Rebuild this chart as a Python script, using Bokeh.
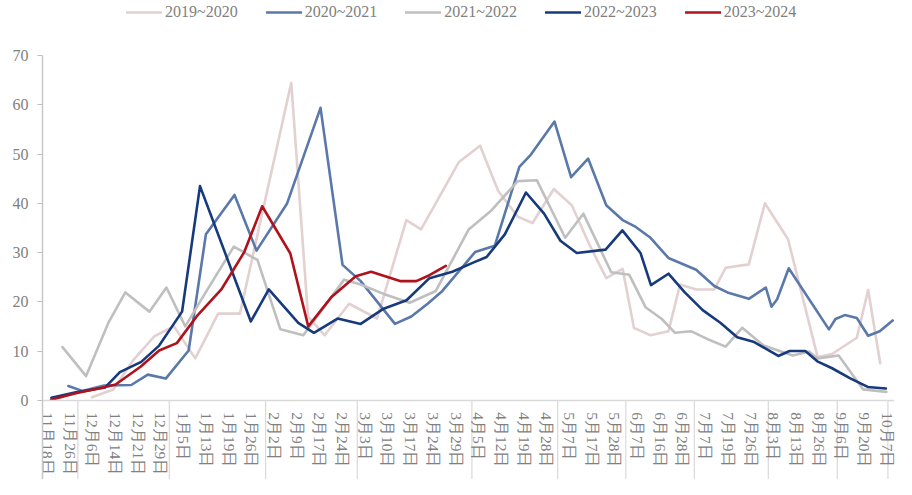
from bokeh.plotting import figure
from bokeh.models import Legend, LegendItem, FixedTicker, Range1d
from bokeh.embed import file_html
from bokeh.resources import INLINE

# ---------------- data ----------------
date_labels = ["11月18日", "11月26日", "12月6日", "12月14日", "12月21日", "12月29日",
               "1月5日", "1月13日", "1月19日", "1月26日", "2月2日", "2月9日", "2月17日",
               "2月24日", "3月3日", "3月10日", "3月17日", "3月24日", "3月29日", "4月5日",
               "4月12日", "4月19日", "4月28日", "5月7日", "5月17日", "5月28日", "6月7日",
               "6月16日", "6月28日", "7月7日", "7月19日", "7月26日", "8月3日", "8月13日",
               "8月26日", "9月6日", "9月20日", "10月7日"]
# month boundaries on the category scale
month_breaks = [-0.22, 1.34, 5.37, 9.61, 13.65, 18.7, 22.48, 25.48, 28.5, 31.76, 34.8, 37.03]
y_ticks = [0, 10, 20, 30, 40, 50, 60, 70]

x_2019 = [1.96, 2.9, 3.77, 4.71, 5.57, 6.51, 7.52, 8.48, 10.74, 11.48, 12.21, 13.29, 14.52,
          15.81, 16.46, 18.13, 19.06, 19.86, 20.72, 21.37, 22.31, 23.1, 23.9, 24.62, 25.34,
          25.84, 26.57, 27.36, 27.87, 28.58, 29.38, 29.88, 30.9, 31.61, 32.63, 33.93, 34.57,
          35.66, 36.16, 36.69]
v_2019 = [0.6, 2.2, 8.1, 13.0, 15.0, 8.5, 17.6, 17.6, 64.5, 17.0, 13.2, 19.6, 16.6,
          36.6, 34.7, 48.4, 51.7, 42.5, 37.3, 36.0, 42.9, 39.6, 31.4, 24.8, 26.7,
          14.7, 13.2, 14.0, 23.5, 22.5, 22.5, 26.9, 27.6, 40.0, 32.7, 8.8, 9.4,
          12.7, 22.4, 7.5]

x_2020 = [0.92, 1.53, 2.5, 3.69, 4.42, 5.21, 6.22, 6.98, 8.24, 9.21, 10.55, 12.03, 13.0,
          13.8, 15.31, 16.03, 16.75, 17.4, 18.84, 19.71, 20.79, 21.3, 22.34, 23.07, 23.82,
          24.62, 25.34, 25.92, 26.57, 27.36, 28.58, 29.38, 29.96, 30.9, 31.65, 31.9, 32.15,
          32.66, 34.43, 34.72, 35.13, 35.66, 36.16, 36.67, 37.24]
v_2020 = [2.9, 1.9, 3.0, 3.1, 5.2, 4.4, 10.1, 33.7, 41.7, 30.4, 39.9, 59.4, 27.5,
          24.2, 15.5, 17.0, 19.6, 22.2, 30.1, 31.4, 47.4, 49.9, 56.6, 45.3, 49.1,
          39.6, 36.6, 35.2, 33.0, 28.9, 26.5, 23.2, 21.9, 20.6, 22.9, 19.0, 20.5,
          26.8, 14.4, 16.5, 17.3, 16.7, 13.1, 14.0, 16.2]

x_2021 = [0.66, 1.7, 2.68, 3.43, 4.49, 5.24, 6.07, 7.01, 8.21, 9.25, 10.26, 11.27, 13.07,
          13.8, 14.81, 15.96, 17.11, 18.56, 19.57, 20.72, 21.56, 22.81, 23.61, 24.84, 25.63,
          26.35, 27.07, 27.65, 28.37, 29.09, 29.88, 30.61, 31.55, 32.84, 33.56, 33.93, 34.86,
          35.94, 36.96]
v_2021 = [10.8, 4.9, 15.7, 21.9, 18.0, 22.9, 15.0, 22.2, 31.2, 28.5, 14.4, 13.2, 24.5,
          23.5, 21.6, 19.8, 22.2, 34.7, 38.6, 44.5, 44.7, 33.0, 37.9, 26.0, 25.5,
          18.9, 16.5, 13.7, 14.0, 12.4, 10.9, 14.7, 11.1, 9.1, 9.9, 8.5, 9.1,
          2.2, 1.7]

x_2022 = [0.17, 1.25, 2.54, 3.19, 4.13, 4.92, 5.93, 6.72, 8.96, 9.75, 11.05, 11.74, 12.78,
          13.8, 14.81, 15.82, 16.83, 17.84, 18.78, 19.35, 20.15, 21.08, 21.88, 22.6, 23.32,
          24.59, 25.33, 26.13, 26.59, 27.36, 28.08, 28.87, 29.66, 30.39, 31.1, 32.2, 32.7,
          33.39, 33.92, 34.57, 35.35, 36.14, 36.94]
v_2022 = [0.5, 1.6, 2.6, 5.7, 7.8, 11.1, 18.0, 43.5, 16.0, 22.5, 15.7, 13.7, 16.6,
          15.5, 18.6, 20.3, 24.8, 26.1, 28.0, 29.1, 33.7, 42.2, 37.9, 32.4, 29.9,
          30.6, 34.5, 29.9, 23.4, 25.7, 21.9, 18.3, 15.7, 12.8, 11.9, 9.0, 10.0,
          10.0, 7.9, 6.5, 4.5, 2.7, 2.4]

x_2023 = [0.16, 1.25, 2.55, 3.0, 4.1, 4.92, 5.7, 6.62, 7.66, 8.67, 9.46, 10.7, 11.49,
          12.5, 13.58, 14.26, 15.53, 16.25, 16.83, 17.55]
v_2023 = [0.1, 1.4, 2.7, 3.2, 6.8, 10.1, 11.6, 17.3, 22.5, 30.1, 39.4, 29.8, 15.0,
          20.9, 25.2, 26.1, 24.2, 24.2, 25.4, 27.3]

series_names = ["2019~2020", "2020~2021", "2021~2022", "2022~2023", "2023~2024"]
series_x = [x_2019, x_2020, x_2021, x_2022, x_2023]
series_v = [v_2019, v_2020, v_2021, v_2022, v_2023]
series_colors = ["#E3D0D0", "#5A78A9", "#BFBFBF", "#173A7C", "#B0121C"]

# ---------------- figure ----------------
FONT = "Liberation Serif"
TXT = "#808080"
W, H = 896, 479
Y_BOTTOM = -16.1   # frame extends below zero to host the date labels
Y_TOP = 81.2       # and above 70 to host the legend

p = figure(width=W, height=H, output_backend="svg", toolbar_location=None,
           x_range=Range1d(month_breaks[0], 37.32), y_range=Range1d(Y_BOTTOM, Y_TOP),
           min_border_left=42, min_border_right=2, min_border_top=0, min_border_bottom=0)
p.outline_line_color = None
p.xgrid.visible = False
p.ygrid.visible = False
p.background_fill_color = "white"
p.border_fill_color = "white"

# month separators below the category axis
n = len(month_breaks)
p.segment(x0=month_breaks, y0=[0] * n, x1=month_breaks, y1=[Y_BOTTOM] * n,
          line_color="#D9D9D9", line_width=1.2)

items = []
for name, xs, vs, col in zip(series_names, series_x, series_v, series_colors):
    r = p.line(xs, vs, line_color=col, line_width=2.6, line_join="round", line_cap="round")
    items.append(LegendItem(label=name, renderers=[r]))

legend = Legend(items=items, orientation="horizontal", location=(84, 458),
                glyph_width=36, glyph_height=16, label_height=16, label_standoff=3,
                spacing=28, padding=0, margin=0,
                border_line_alpha=0, background_fill_alpha=0,
                label_text_font=FONT, label_text_font_size="16px",
                label_text_color=TXT)
p.add_layout(legend)

# y axis (line spans from the bottom separator up to 70)
p.yaxis.ticker = FixedTicker(ticks=y_ticks)
p.yaxis.bounds = (Y_BOTTOM, y_ticks[-1])
p.yaxis.axis_line_color = "#C8C8C8"
p.yaxis.axis_line_width = 1.5
p.yaxis.major_tick_line_color = "#BFBFBF"
p.yaxis.major_tick_out = 5
p.yaxis.major_tick_in = 0
p.yaxis.minor_tick_line_color = None
p.yaxis.major_label_standoff = 9
p.yaxis.major_label_text_font = FONT
p.yaxis.major_label_text_font_size = "16px"
p.yaxis.major_label_text_color = TXT

# x axis, drawn at value 0 inside the frame
p.xaxis.fixed_location = 0
p.xaxis.ticker = FixedTicker(ticks=list(range(len(date_labels))))
p.xaxis.major_label_overrides = {i: lab for i, lab in enumerate(date_labels)}
p.xaxis.major_label_orientation = "vertical"
p.xaxis.axis_line_color = "#D9D9D9"
p.xaxis.axis_line_width = 1.5
p.xaxis.major_tick_line_color = None
p.xaxis.major_tick_out = 0
p.xaxis.major_tick_in = 0
p.xaxis.minor_tick_line_color = None
p.xaxis.major_label_standoff = 12
p.xaxis.major_label_text_font = FONT
p.xaxis.major_label_text_font_size = "15.5px"
p.xaxis.major_label_text_color = TXT

open("out.html", "w").write(file_html(p, INLINE))
